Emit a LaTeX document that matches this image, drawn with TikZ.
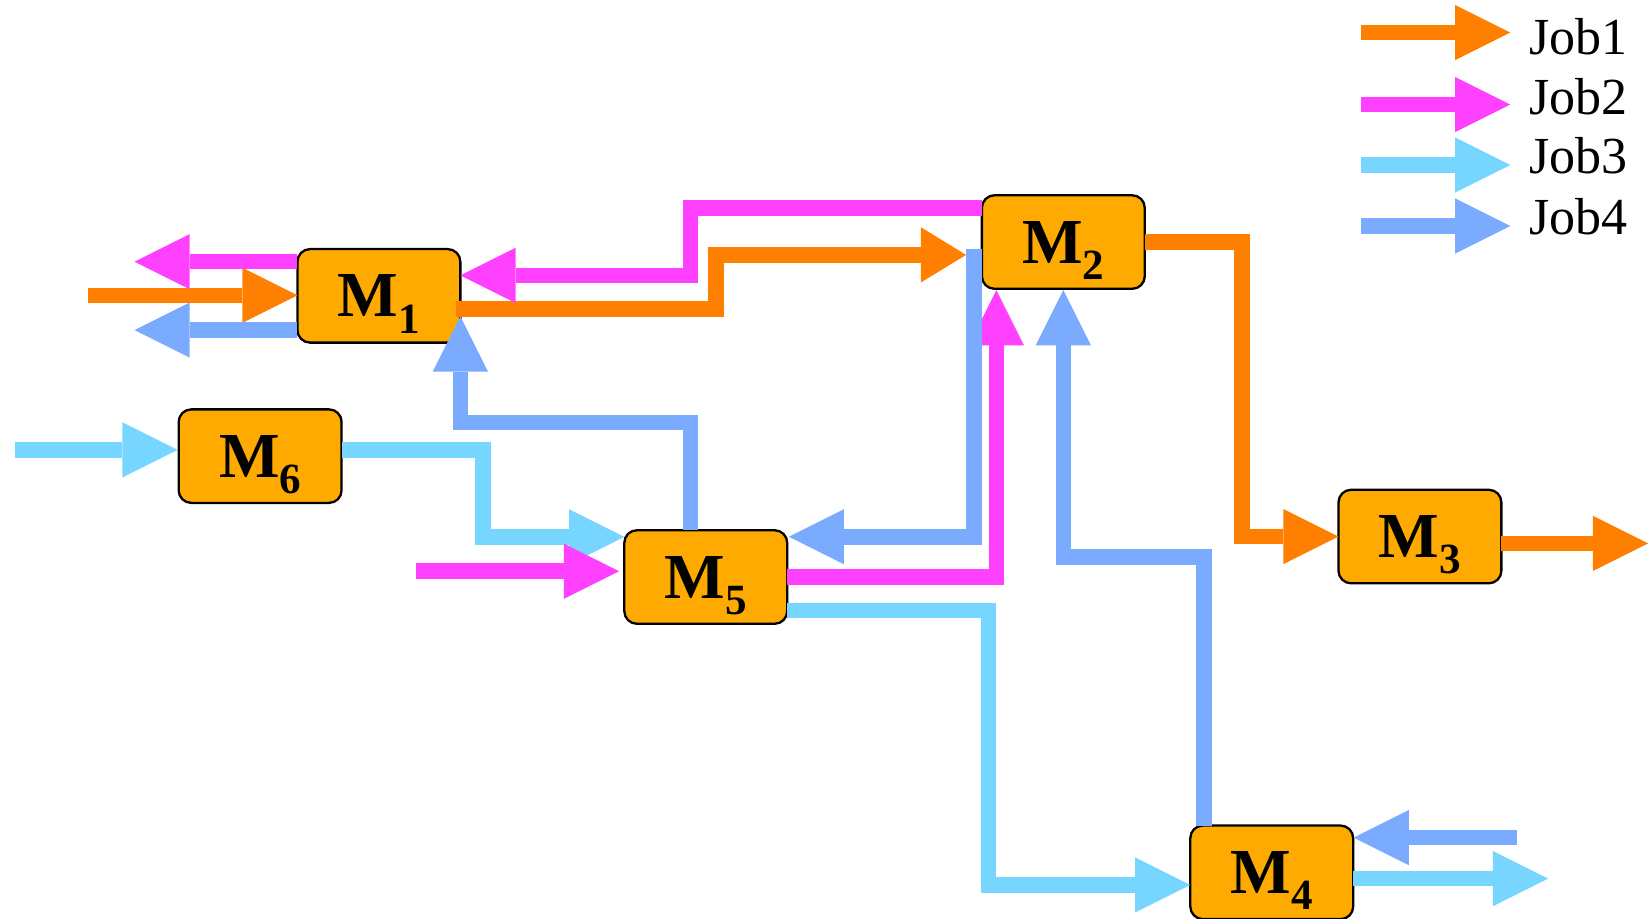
\documentclass[tikz,border=0pt]{standalone}
\usepackage{fontspec}
\setmainfont{Liberation Serif}
\usetikzlibrary{arrows.meta,calc}

\definecolor{jobone}{HTML}{FF8000}
\definecolor{jobtwo}{HTML}{FF40FF}
\definecolor{jobthree}{HTML}{76D6FF}
\definecolor{jobfour}{HTML}{7AABFF}
\definecolor{machinefill}{HTML}{FFAA00}

% machine label: bold M with a lowered index
\newcommand{\mlab}[1]{M\raisebox{-15.5pt}{\fontsize{41}{41}\selectfont #1}}

\tikzset{
  machine/.style={draw=black, line width=2.2pt, fill=machinefill,
    rounded corners=12pt, minimum width=155pt, minimum height=89pt,
    inner sep=0pt, outer sep=0pt, text height=42pt, text depth=2pt,
    font=\fontsize{61}{61}\selectfont\bfseries},
  pipe/.style={line width=14.8pt, line cap=butt, line join=miter},
  head/.style={-{Triangle[length=52.5pt,width=52.5pt,line width=0pt]}},
  shorthead/.style={-{Triangle[length=43pt,width=52.5pt,line width=0pt]}},
  jobA/.style={pipe, draw=jobone},
  jobB/.style={pipe, draw=jobtwo},
  jobC/.style={pipe, draw=jobthree},
  jobD/.style={pipe, draw=jobfour},
  legendtext/.style={anchor=base west, inner sep=0pt,
    font=\fontsize{49.5}{49.5}\selectfont},
}

\begin{document}
\begin{tikzpicture}[x=1pt, y=-1pt]
\useasboundingbox (0,0) rectangle (1568,874);

% machines
\node[machine] (M1) at (360.5,281.5) {\mlab{1}};
\node[machine] (M2) at (1011.7,230.3) {\mlab{2}};
\node[machine] (M3) at (1351,510.5) {\mlab{3}};
\node[machine] (M4) at (1210,830) {\mlab{4}};
\node[machine] (M5) at (671.5,549) {\mlab{5}};
\node[machine] (M6) at (247.5,434) {\mlab{6}};

% free ends of the routes
\coordinate (o1in)  at (84,281);
\coordinate (o3out) at (1568,517);
\coordinate (p1out) at (128,249);
\coordinate (p5in)  at (396,543.5);
\coordinate (s6in)  at (14,428);
\coordinate (s4out) at (1473,836);
\coordinate (b1out) at (128,314);
\coordinate (b4in)  at (1443,797);

% Job1 route
\draw[jobA, head] (o1in) -- (o1in -| M1.west);
\draw[jobA, shorthead] ($(M1.east)+(-4,12.5)$) -- (681,294) -- (681,242.5)
  -- ($(M2.west)+(-15,12.2)$);
\draw[jobA, head] (M2.east) -| ($(M3.west)+(-92,0)$) -- (M3.west);
\draw[jobA, head] ($(M3.east)+(0,6.5)$) -- (o3out);

% Job3 route
\draw[jobC, head] (s6in) -- ($(M6.west)+(-1,-6)$);
\draw[jobC, head] ($(M6.east)+(0,-6)$) -| (459.5,510.8) -- ($(M5.west)+(0,-38.2)$);
\draw[jobC, head] ($(M5.east)+(0,32)$) -| (940.7,842) -- ($(M4.west)+(0,12)$);
\draw[jobC, head] ($(M4.east)+(0,6)$) -- (s4out);

% Job2 route
\draw[jobB, head] ($(M1.west)+(0,-32.5)$) -- (p1out);
\draw[jobB, head] ($(M2.west)+(0,-32.3)$) -- (657,198) -- (657,262)
  -- ($(M1.east)+(0,-19.5)$);
\draw[jobB, head] (p5in) -- ($(M5.west)+(-5,-5.5)$);
\draw[jobB, head] (M5.east) -| ($(M2.south)+(-63.7,1.2)$);

% Job4 route
\draw[jobD, head] ($(M1.west)+(0,32.5)$) -- (b1out);
\draw[jobD, head] ($(M5.north)+(-14.5,0)$) -- (657,402) -- (438,402)
  -- ($(M1.south east)+(0,-25)$);
\draw[jobD, head] ($(M2.west)+(-7.3,6.7)$) |- ($(M5.east)+(1.5,-38.3)$);
\draw[jobD, head] ($(M4.north)+(-64.2,0)$) |- ($(M2.south)+(0,255)$)
  -- ($(M2.south)+(0,1.2)$);
\draw[jobD, head] (b4in) -- ($(M4.east)+(0.4,-33)$);

% legend
\coordinate (L1a) at (1295,31);   \coordinate (L1b) at (1437,31);
\coordinate (L2a) at (1295,99.5); \coordinate (L2b) at (1437,99.5);
\coordinate (L3a) at (1295,157);  \coordinate (L3b) at (1437,157);
\coordinate (L4a) at (1295,215);  \coordinate (L4b) at (1437,215);
\draw[jobA, head] (L1a) -- (L1b);
\draw[jobB, head] (L2a) -- (L2b);
\draw[jobC, head] (L3a) -- (L3b);
\draw[jobD, head] (L4a) -- (L4b);
\node[legendtext] (T1) at (1455,51.5)  {Job1};
\node[legendtext] (T2) at (1455,108.5) {Job2};
\node[legendtext] (T3) at (1455,165.5) {Job3};
\node[legendtext] (T4) at (1455,223)   {Job4};
\end{tikzpicture}
\end{document}
